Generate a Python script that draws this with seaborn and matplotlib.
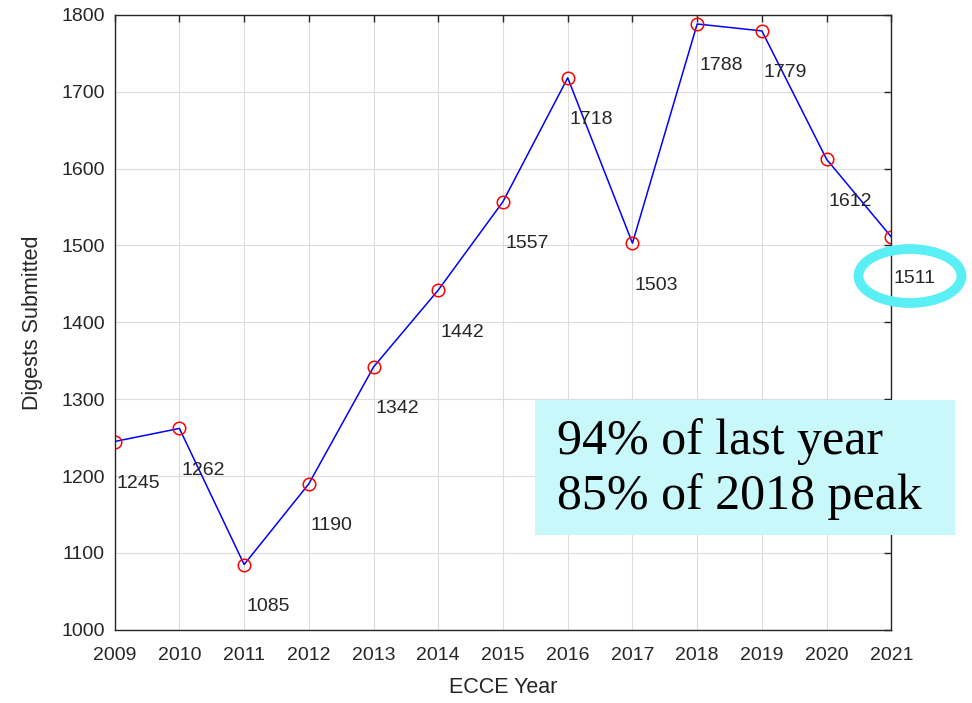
import matplotlib
matplotlib.use("Agg")
import matplotlib.pyplot as plt
import seaborn as sns
from matplotlib.patches import Ellipse, Rectangle

years = [2009, 2010, 2011, 2012, 2013, 2014, 2015, 2016, 2017, 2018, 2019, 2020, 2021]
digests = [1245, 1262, 1085, 1190, 1342, 1442, 1557, 1718, 1503, 1788, 1779, 1612, 1511]
note_lines = ["94% of last year", "85% of 2018 peak"]

sns.set_style("white")
plt.rcParams['font.family'] = ['Liberation Sans', 'DejaVu Sans']

fig = plt.figure(figsize=(9.72, 7.03), dpi=100)
ax = fig.add_axes([0.118, 0.104, 0.799, 0.875])

sns.lineplot(x=years, y=digests, ax=ax, color='blue', linewidth=1.1,
             marker='o', markersize=9, markerfacecolor='none',
             markeredgecolor='red', markeredgewidth=1.1)

for x, y in zip(years, digests):
    ax.annotate(str(y), (x, y), xytext=(2, -42), textcoords='offset pixels',
                ha='left', va='center', fontsize=14, color='#262626',
                annotation_clip=False)

ax.set_xlim(2009, 2021)
ax.set_ylim(1000, 1800)
ax.set_xticks(years)
ax.set_yticks(range(1000, 1801, 100))
ax.grid(True, color='#dcdcdc', linewidth=0.8)
ax.tick_params(direction='in', top=True, right=True, length=5, width=1,
               colors='#262626', labelsize=14)
ax.tick_params(axis='x', pad=12)
ax.tick_params(axis='y', pad=7)
for s in ax.spines.values():
    s.set_color('#262626')
    s.set_linewidth(1)
ax.set_xlabel('ECCE Year', fontsize=15.5, color='#262626', labelpad=10)
ax.set_ylabel('Digests Submitted', fontsize=15.5, color='#262626', labelpad=13)

# highlighted last value
ell = Ellipse((910 / 972, 1 - 276 / 703), 103 / 972, 54 / 703,
              transform=fig.transFigure, fill=False, edgecolor='#5aeef5',
              linewidth=7, clip_on=False)
fig.patches.append(ell)

# note box
box = Rectangle((535 / 972, 1 - 535 / 703), 420 / 972, 135 / 703,
                transform=fig.transFigure, facecolor='#c8f8fa', edgecolor='none')
fig.patches.append(box)
fig.text(557 / 972, 1 - 469 / 703, "\n".join(note_lines), fontsize=36,
         family=['Liberation Serif', 'DejaVu Serif'], color='black',
         ha='left', va='center', linespacing=1.2)

fig.savefig('out.png', dpi=100)
